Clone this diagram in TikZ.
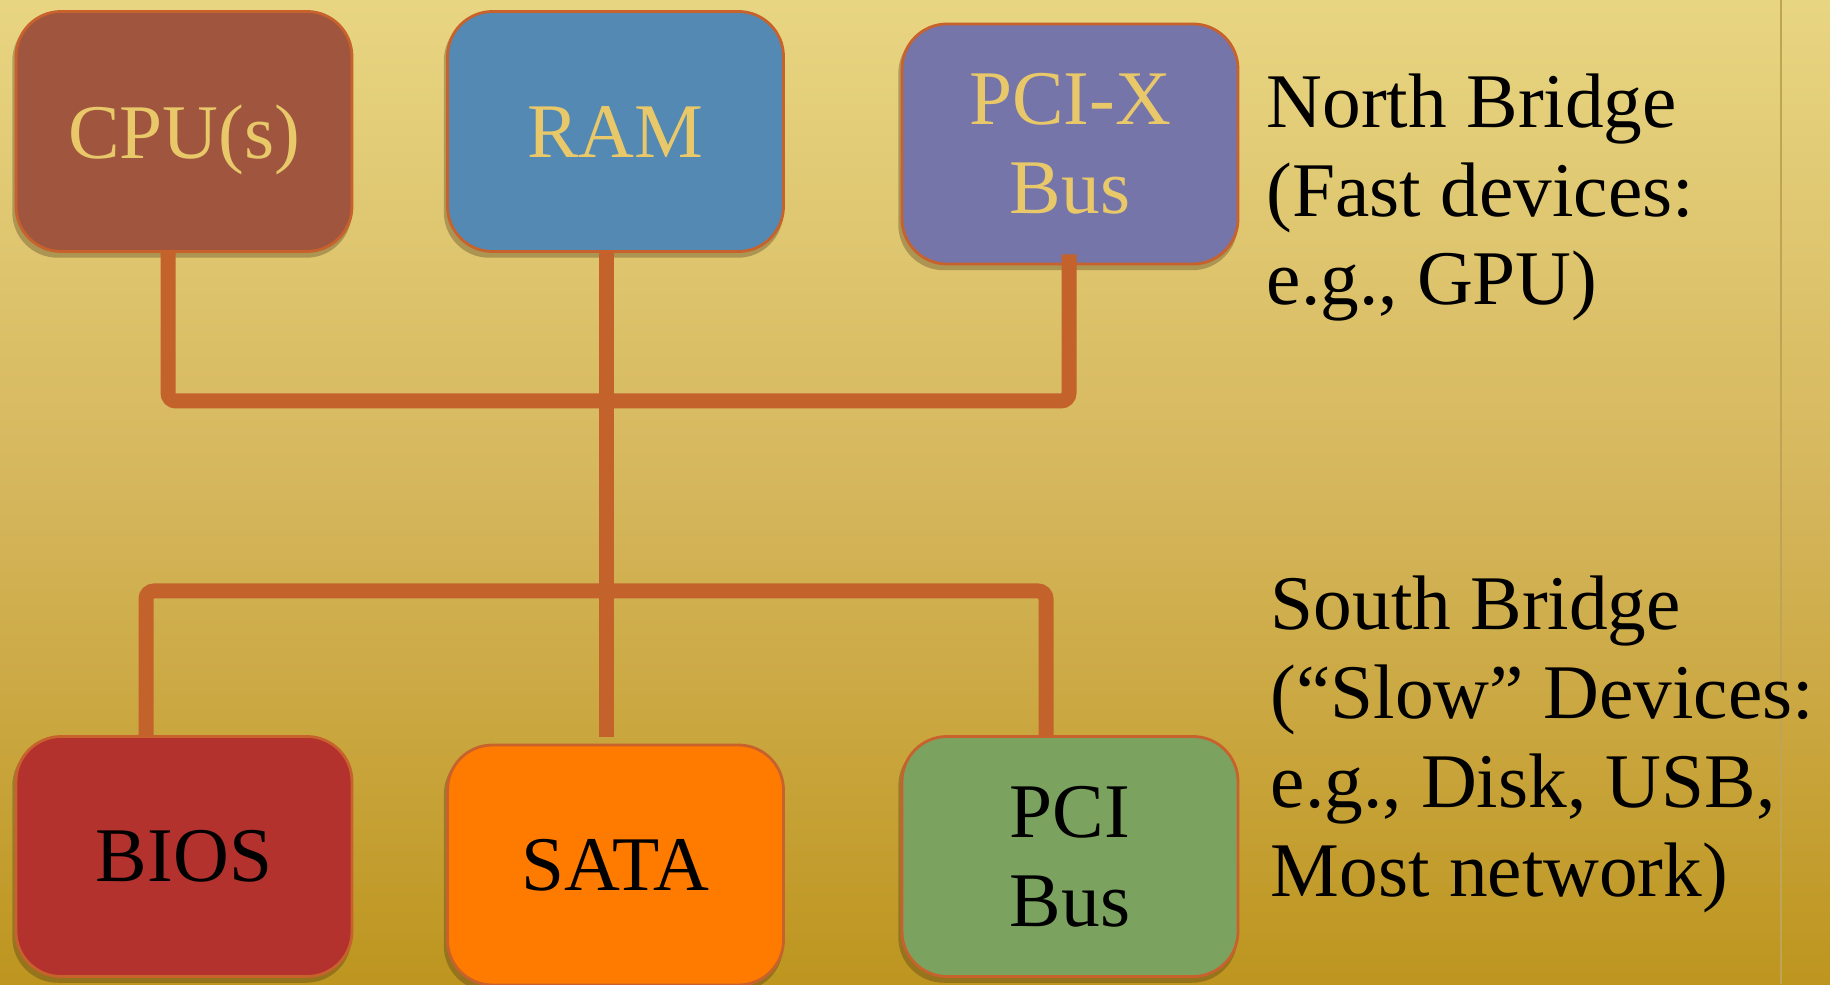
\documentclass[tikz,border=0pt]{standalone}
\usepackage{fontspec}
\setmainfont{Liberation Serif}
\usetikzlibrary{shadows}
\definecolor{bgtop}{HTML}{E8D582}
\definecolor{bgmid}{HTML}{D5B65C}
\definecolor{bgbot}{HTML}{BD951F}
\definecolor{bgline}{HTML}{BFA455}
\definecolor{busline}{HTML}{C4622C}
\definecolor{boxedge}{HTML}{C8622C}
\definecolor{chiptext}{HTML}{E8C869}
\definecolor{cpucol}{HTML}{A0553F}
\definecolor{ramcol}{HTML}{5389B2}
\definecolor{pcixcol}{HTML}{7575AA}
\definecolor{bioscol}{HTML}{B3322E}
\definecolor{satacol}{HTML}{FF7B00}
\definecolor{pcicol}{HTML}{7BA35F}
\begin{document}
\begin{tikzpicture}[every node/.style={font=\fontsize{22}{25.3}\selectfont},
  chip/.style={draw=boxedge, line width=0.8pt, rounded corners=0.45cm,
    minimum width=3.36cm, minimum height=2.4cm, align=center,
    drop shadow={shadow xshift=-0.2mm, shadow yshift=-0.5mm, shadow scale=1.01, fill=black!70!brown, opacity=0.3}},
  bus/.style={draw=busline, line width=0.15cm, rounded corners=0.08cm},
  note/.style={anchor=base west, align=left, inner sep=0pt}]
  \useasboundingbox (0,0) rectangle (18.3,9.84);
  \shade[top color=bgtop, bottom color=bgbot, middle color=bgmid] (0,0) rectangle (18.3,9.84);
  \draw[line width=0.6pt, bgline] (17.81,0) -- (17.81,9.84);
  \node[chip, fill=cpucol, text=chiptext, text depth=0pt] (cpu) at (1.84,8.525) {CPU(s)};
  \node[chip, fill=ramcol, text=chiptext] (ram) at (6.155,8.525) {RAM};
  \node[chip, fill=pcixcol, text=chiptext] (pcix) at (10.70,8.40) {PCI-X\\Bus};
  \node[chip, fill=bioscol] (bios) at (1.84,1.275) {BIOS};
  \node[chip, fill=satacol] (sata) at (6.155,1.19) {SATA};
  \node[chip, fill=pcicol] (pci) at (10.70,1.275) {PCI\\Bus};
  \coordinate (nb) at (6.06,5.83);
  \coordinate (sb) at (6.06,3.93);
  \draw[bus] ([xshift=-1.6mm]cpu.south) |- (nb) -| ([xshift=-0.1mm,yshift=1.1mm]pcix.south);
  \draw[bus] ([xshift=-0.95mm]ram.south) -- ([xshift=-0.95mm,yshift=0.7mm]sata.north);
  \draw[bus] ([xshift=-3.8mm]bios.north) |- (sb) -| ([xshift=-2.4mm]pci.north);
  \node[note] (north) at (12.66,6.79) {North Bridge\\(Fast devices:\\e.g., GPU)};
  \node[note] (south) at (12.70,0.88) {South Bridge\\(“Slow” Devices:\\e.g., Disk, USB,\\Most network)};
\end{tikzpicture}
\end{document}
